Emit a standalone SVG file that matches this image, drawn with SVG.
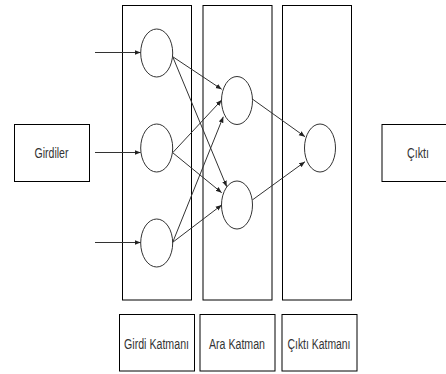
<svg xmlns="http://www.w3.org/2000/svg" width="446" height="374" viewBox="0 0 446 374">
<defs>
<style>
.box{fill:#fff;stroke:#000;stroke-width:1}
.col{fill:none;stroke:#000;stroke-width:1}
.neu{fill:#fff;stroke:#333;stroke-width:1}
.edge{fill:none;stroke:#333;stroke-width:1;marker-end:url(#ah)}
.t{font-family:"Liberation Sans",Arial,sans-serif;font-size:14px;fill:#333;text-anchor:middle}
</style>
<marker id="ah" viewBox="0 0 10 10" refX="10" refY="5" markerWidth="6" markerHeight="6" markerUnits="userSpaceOnUse" orient="auto">
<path d="M0,1 L10,5 L0,9 Z" fill="#222"/>
</marker>
</defs>
<rect width="446" height="374" fill="#fff"/>
<g id="col-girdi"><rect class="col" x="122.5" y="5.5" width="69" height="294.5"/></g>
<g id="col-ara"><rect class="col" x="203" y="5.5" width="69" height="294.5"/></g>
<g id="col-cikti"><rect class="col" x="282.5" y="5.5" width="69" height="294.5"/></g>
<g id="girdiler"><rect class="box" x="14.5" y="124.5" width="75" height="57"/><text class="t" x="51.5" y="158" textLength="34" lengthAdjust="spacingAndGlyphs">Girdiler</text></g>
<g id="cikti"><rect class="box" x="382" y="124.5" width="75" height="57"/><text class="t" x="418" y="158" textLength="22" lengthAdjust="spacingAndGlyphs">Çıktı</text></g>
<g id="lbl-girdi"><rect class="box" x="119.5" y="314.5" width="75" height="56.5"/><text class="t" x="156.5" y="348.5" textLength="65" lengthAdjust="spacingAndGlyphs">Girdi Katmanı</text></g>
<g id="lbl-ara"><rect class="box" x="200" y="314.5" width="75" height="56.5"/><text class="t" x="237" y="348.5" textLength="56" lengthAdjust="spacingAndGlyphs">Ara Katman</text></g>
<g id="lbl-cikti"><rect class="box" x="282" y="314.5" width="75" height="56.5"/><text class="t" x="319" y="348.5" textLength="63" lengthAdjust="spacingAndGlyphs">Çıktı Katmanı</text></g>
<g id="in1"><ellipse class="neu" cx="156.7" cy="53" rx="16" ry="24"/></g>
<g id="in2"><ellipse class="neu" cx="156.7" cy="148" rx="16" ry="24"/></g>
<g id="in3"><ellipse class="neu" cx="156.7" cy="243" rx="16" ry="24"/></g>
<g id="h1"><ellipse class="neu" cx="237" cy="100.5" rx="15.5" ry="24"/></g>
<g id="h2"><ellipse class="neu" cx="237" cy="205" rx="15.5" ry="24"/></g>
<g id="out"><ellipse class="neu" cx="320" cy="148" rx="15.5" ry="24"/></g>
<g id="connectors">
<line class="edge" x1="95" y1="52.5" x2="140.7" y2="52.5"/>
<line class="edge" x1="95" y1="152.5" x2="140.7" y2="152.5"/>
<line class="edge" x1="95" y1="242.5" x2="140.7" y2="242.5"/>
<line class="edge" x1="172.7" y1="56.7" x2="221.7" y2="89.3"/>
<line class="edge" x1="172.7" y1="56.7" x2="226.7" y2="186.7"/>
<line class="edge" x1="172.7" y1="152.7" x2="221.7" y2="100"/>
<line class="edge" x1="172.7" y1="152.7" x2="221.7" y2="192.7"/>
<line class="edge" x1="172.7" y1="242.3" x2="223.3" y2="116.7"/>
<line class="edge" x1="172.7" y1="242.3" x2="221.7" y2="205"/>
<line class="edge" x1="252.3" y1="99" x2="305" y2="136.7"/>
<line class="edge" x1="252.3" y1="200" x2="305" y2="161.7"/>
</g>
</svg>
